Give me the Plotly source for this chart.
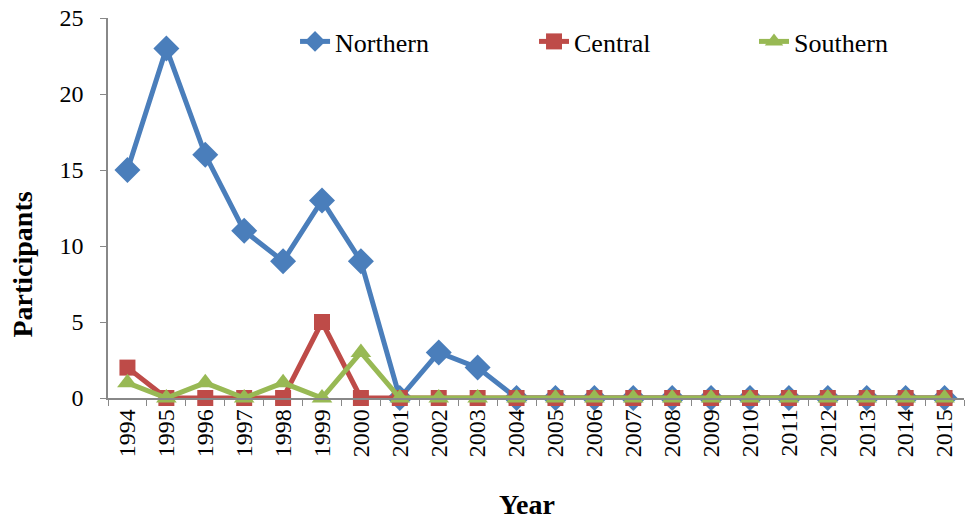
import plotly.graph_objects as go

years = [str(y) for y in range(1994, 2016)]
northern = [15, 23, 16, 11, 9, 13, 9, 0, 3, 2, 0, 0, 0, 0, 0, 0, 0, 0, 0, 0, 0, 0]
central = [2, 0, 0, 0, 0, 5, 0, 0, 0, 0, 0, 0, 0, 0, 0, 0, 0, 0, 0, 0, 0, 0]
southern = [1, 0, 1, 0, 1, 0, 3, 0, 0, 0, 0, 0, 0, 0, 0, 0, 0, 0, 0, 0, 0, 0]

# name, values, colour, marker, marker size, legend id, legend x
series = [
    ("Northern", northern, "#4A7EBB", "diamond", 20, "legend", 0.2185),
    ("Central", central, "#BE4B48", "square", 16, "legend2", 0.4977),
    ("Southern", southern, "#98B954", "triangle-up", 18, "legend3", 0.7547),
]

fig = go.Figure()
legends = {}
for name, vals, color, symbol, size, leg, lx in series:
    fig.add_trace(go.Scatter(
        x=years, y=vals, name=name, mode="lines+markers",
        line=dict(color=color, width=5),
        marker=dict(symbol=symbol, size=size, color=color),
        cliponaxis=False, legend=leg, showlegend=True,
    ))
    legends[leg] = dict(
        orientation="h", x=lx, y=1.0, xanchor="left", yanchor="top",
        font=dict(size=26), bgcolor="rgba(0,0,0,0)",
    )

axis_font = dict(family="Liberation Serif", size=24, color="black")

fig.update_layout(
    width=966, height=523,
    margin=dict(l=108, r=2, t=18, b=125, autoexpand=False),
    showlegend=True,
    plot_bgcolor="white", paper_bgcolor="white",
    font=dict(family="Liberation Serif", size=24, color="black"),
    xaxis=dict(
        type="category", tickangle=-90, tickfont=axis_font,
        range=[-0.5, len(years) - 0.5], autorange=False,
        showline=True, linecolor="#888888", linewidth=1.5,
        ticks="outside", tickson="boundaries", ticklen=6, tickcolor="#888888",
        showgrid=False, zeroline=False, automargin=False,
    ),
    yaxis=dict(
        range=[0, 25], dtick=5, tickfont=axis_font,
        showline=True, linecolor="#888888", linewidth=1.5,
        ticks="outside", ticklen=6, tickcolor="#888888", ticklabelstandoff=12,
        showgrid=False, zeroline=False, automargin=False,
    ),
    annotations=[
        dict(text="<b>Participants</b>", xref="paper", yref="paper",
             x=-0.101, y=0.35, xanchor="center", yanchor="middle",
             textangle=-90, showarrow=False, font=dict(size=28)),
        dict(text="<b>Year</b>", xref="paper", yref="paper",
             x=0.49, y=-0.28, xanchor="center", yanchor="middle",
             showarrow=False, font=dict(size=28)),
    ],
    **legends,
)

fig.write_html("out.html", config={"displayModeBar": False},
               post_script="document.body.style.margin='0';")
